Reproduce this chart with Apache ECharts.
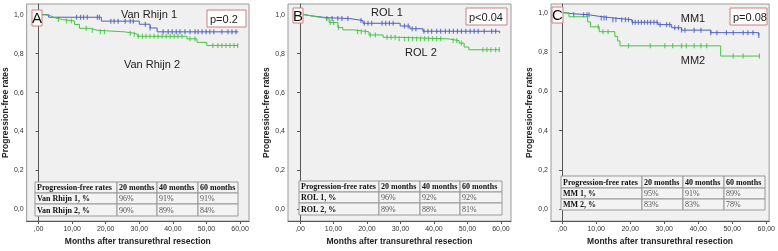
<!DOCTYPE html>
<html>
<head>
<meta charset="utf-8">
<script src="https://cdn.jsdelivr.net/npm/echarts@6/dist/echarts.min.js"></script>
<style>
  html, body { margin: 0; padding: 0; background: #fff; }
  #chart { width: 778px; height: 251px; }
</style>
</head>
<body>
<div id="chart"></div>
<script>
// ---- data ----
const xTicks = [0, 10, 20, 30, 40, 50, 60]
const yTicks = [0, 0.2, 0.4, 0.6, 0.8, 1.0]

// A: Van Rhijn
const a1Time = [0, 3, 18.7, 30, 33.2, 35.3, 59.5]
const a1Surv = [1, 0.987, 0.967, 0.951, 0.932, 0.912, 0.91]
const a1Cens = [11.3, 12.5, 13.4, 14.5, 17.5, 18.1, 21.5, 22.5, 23.7, 25.8, 27.3, 28.2, 31.8, 33.2, 37.1, 38.6, 39.8, 41, 42.1, 43.6, 45.1, 46.6, 47.5, 48.7, 49.9, 51, 52.2, 54.6, 56.4, 57.6, 58.8]
const a2Time = [0, 2, 3.5, 4.7, 7.1, 10.7, 12.2, 15.4, 17.5, 25.5, 28.5, 29.4, 44.2, 47.2, 50.1, 59.5]
const a2Surv = [1, 0.995, 0.985, 0.975, 0.968, 0.95, 0.93, 0.92, 0.912, 0.905, 0.9, 0.889, 0.876, 0.858, 0.842, 0.842]
const a2Cens = [5.9, 8.3, 9.8, 14.2, 16, 18.4, 19.6, 27.3, 28.5, 29.7, 30.9, 32, 33.2, 34.4, 35.6, 36.8, 38, 39.2, 40.4, 41.5, 42.7, 45.1, 46.6, 51.9, 53.4, 54.6, 55.8, 57, 58.2, 59.3]

// B: ROL
const b1Time = [0, 1.5, 3, 8, 14.9, 18.8, 29.9, 32.8, 36.7, 59.6]
const b1Surv = [1, 0.995, 0.985, 0.98, 0.97, 0.956, 0.942, 0.928, 0.915, 0.905]
const b1Cens = [8, 9.6, 11.3, 12.5, 14.3, 18.2, 19.2, 20.3, 21.4, 24.5, 25.6, 26.7, 27.8, 31.2, 32.3, 33.5, 34.6, 37, 38.2, 39.3, 40.8, 42, 43.4, 44.6, 45.8, 47, 48.2, 49.5, 50.8, 52, 53.2, 55, 57.2, 58.4]
const b2Time = [0, 1.5, 4.8, 8.7, 11.3, 12.8, 16.1, 20.6, 24.8, 29.3, 44.2, 47.5, 49, 50.4, 59.7]
const b2Surv = [1, 0.99, 0.98, 0.96, 0.934, 0.922, 0.912, 0.896, 0.884, 0.876, 0.867, 0.854, 0.834, 0.82, 0.82]
const b2Cens = [9, 10, 11.5, 17.2, 18.3, 19.5, 21, 22.5, 26, 27.2, 28.4, 29.6, 31.2, 32.4, 33.6, 34.8, 36, 37.2, 38.4, 39.6, 40.8, 42, 45.7, 46.8, 48.2, 54.6, 55.8, 57, 58.4, 59.5]

// C: MM
const c1Time = [0, 1, 3.4, 8, 10.9, 14.9, 20.5, 28.2, 32.2, 35.1, 43.7, 57.8]
const c1Surv = [1, 0.995, 0.99, 0.982, 0.974, 0.965, 0.952, 0.94, 0.924, 0.912, 0.899, 0.885]
const c1Cens = [3.4, 6.3, 7.3, 7.9, 11.5, 12.3, 13, 14.9, 15.8, 17.5, 18.6, 19.5, 20.7, 21.5, 22.4, 23.3, 24.2, 25.1, 26, 27, 27.9, 28.8, 30.7, 31.6, 33.1, 34.2, 35.1, 36.1, 38.8, 40.8, 43.7, 45.5, 48.3, 50.3, 53.2, 54.6, 56.1, 57.8]
const c2Time = [0, 2, 7.5, 8.3, 10.9, 15.5, 16.3, 17, 46.6, 58]
const c2Surv = [1, 0.98, 0.954, 0.929, 0.904, 0.88, 0.857, 0.832, 0.78, 0.78]
const c2Cens = [10.6, 12, 13.5, 19.5, 25.9, 30.2, 32.5, 35.1, 36.5, 38.8, 40.8, 42.5, 50.3, 53.2, 58]

const tableHead = ['Progression-free rates', '20 months', '40 months', '60 months']
const tableA = [['Van Rhijn 1, %', '96%', '91%', '91%'], ['Van Rhijn 2, %', '90%', '89%', '84%']]
const tableB = [['ROL 1, %', '96%', '92%', '92%'], ['ROL 2, %', '89%', '88%', '81%']]
const tableC = [['MM 1, %', '95%', '91%', '89%'], ['MM 2, %', '83%', '83%', '78%']]

const blue = '#4a5fc1'
const green = '#45c445'

// ---- layout of the three panels ----
const panels = [
  {
    letter: 'A', pText: 'p=0.2', names: ['Van Rhijn 1', 'Van Rhijn 2'],
    curves: [[a1Time, a1Surv, a1Cens, blue], [a2Time, a2Surv, a2Cens, green]], table: tableA,
    grid: { left: 26, top: 4, width: 223, height: 222 }, xr: [-3.56, 62.67], yr: [-0.06, 1.055],
    letterBox: [32, 10, 10, 16], pBox: [207, 10, 39, 17],
    nameAt: [[149, 15], [152, 65]],
    cols: [35, 117, 157, 198, 238], rows: [182, 193, 204, 216]
  },
  {
    letter: 'B', pText: 'p<0.04', names: ['ROL 1', 'ROL 2'],
    curves: [[b1Time, b1Surv, b1Cens, blue], [b2Time, b2Surv, b2Cens, green]], table: tableB,
    grid: { left: 288, top: 4, width: 223, height: 222 }, xr: [-3.58, 62.99], yr: [-0.06, 1.055],
    letterBox: [293, 8, 10, 15], pBox: [466, 8, 41, 17],
    nameAt: [[387, 13], [421, 53]],
    cols: [299, 379, 420, 460, 502], rows: [181, 192, 203, 215]
  },
  {
    letter: 'C', pText: 'p=0.08', names: ['MM1', 'MM2'],
    curves: [[c1Time, c1Surv, c1Cens, blue], [c2Time, c2Surv, c2Cens, green]], table: tableC,
    grid: { left: 551, top: 4, width: 225, height: 221 }, xr: [-3.28, 60.86], yr: [-0.06, 1.045],
    letterBox: [552, 7, 11, 16], pBox: [730, 8, 37, 17],
    nameAt: [[693, 19], [693, 61]],
    cols: [561, 642, 683, 724, 765], rows: [176, 188, 199, 210]
  }
]

// value of a step curve at time t
const stepAt = (times, surv, t) => {
  let v = surv[0]
  for (let i = 0; i < times.length; i++) {
    if (times[i] <= t) v = surv[i]
  }
  return v
}

const grids = []
const xAxes = []
const yAxes = []
const series = []
const graphics = []

panels.forEach((p, gi) => {
  grids.push(Object.assign({
    show: true, backgroundColor: '#f0f0f0', borderColor: '#9a9a9a', borderWidth: 1
  }, p.grid))

  xAxes.push({
    type: 'value', gridIndex: gi, min: p.xr[0], max: p.xr[1],
    name: 'Months after transurethral resection', nameLocation: 'middle', nameGap: 15,
    nameTextStyle: { fontFamily: 'Liberation Sans', fontWeight: 'bold', fontSize: 8.5, color: '#222' },
    axisLine: { onZero: false, lineStyle: { color: '#555' } },
    axisTick: { customValues: xTicks, length: 3, lineStyle: { color: '#555' } },
    axisLabel: {
      customValues: xTicks, fontSize: 7, color: '#333', margin: 4, fontFamily: 'Liberation Sans',
      formatter: v => v === 0 ? ',00' : v.toFixed(2).replace('.', ',')
    },
    splitLine: { show: false }
  })

  yAxes.push({
    type: 'value', gridIndex: gi, min: p.yr[0], max: p.yr[1],
    name: 'Progression-free rates', nameLocation: 'middle', nameGap: 14, nameRotate: 90,
    nameTextStyle: { fontFamily: 'Liberation Sans', fontWeight: 'bold', fontSize: 8.5, color: '#222' },
    axisLine: { lineStyle: { color: '#555' } },
    axisTick: { customValues: yTicks, length: 3, lineStyle: { color: '#555' } },
    axisLabel: {
      customValues: yTicks, fontSize: 7, color: '#333', margin: 3, fontFamily: 'Liberation Sans',
      formatter: v => v.toFixed(1).replace('.', ',')
    },
    splitLine: { show: false }
  })

  p.curves.forEach(([times, surv, cens, color]) => {
    series.push({
      type: 'line', step: 'end', xAxisIndex: gi, yAxisIndex: gi,
      data: times.map((t, i) => [t, surv[i]]),
      showSymbol: false, silent: true,
      lineStyle: { color: color, width: 1 }
    })
    series.push({
      type: 'scatter', xAxisIndex: gi, yAxisIndex: gi,
      data: cens.map(t => [t, stepAt(times, surv, t)]),
      symbol: 'rect', symbolSize: [1.2, 5], silent: true,
      itemStyle: { color: color }
    })
  })

  // panel letter box
  const [lx, ly, lw, lh] = p.letterBox
  graphics.push({
    type: 'rect', shape: { x: lx, y: ly, width: lw, height: lh },
    style: { fill: '#fff', stroke: '#c98080', lineWidth: 1 }, z: 100
  })
  graphics.push({
    type: 'text', x: lx + lw / 2, y: ly + lh / 2 + 1, z: 101,
    style: { text: p.letter, fill: '#111', fontSize: 15, fontFamily: 'Liberation Sans', align: 'center', verticalAlign: 'middle' }
  })

  // p-value box
  const [px, py, pw, ph] = p.pBox
  graphics.push({
    type: 'rect', shape: { x: px, y: py, width: pw, height: ph },
    style: { fill: '#fff', stroke: '#c98080', lineWidth: 1 }, z: 100
  })
  graphics.push({
    type: 'text', x: px + 3, y: py + ph / 2 + 1, z: 101,
    style: { text: p.pText, fill: '#222', fontSize: 11, fontFamily: 'Liberation Sans', verticalAlign: 'middle' }
  })

  // curve names
  p.names.forEach((n, k) => {
    graphics.push({
      type: 'text', x: p.nameAt[k][0], y: p.nameAt[k][1], z: 101,
      style: { text: n, fill: '#222', fontSize: 11, fontFamily: 'Liberation Sans', align: 'center', verticalAlign: 'middle' }
    })
  })

  // table
  const rowsData = [tableHead].concat(p.table)
  rowsData.forEach((row, r) => {
    row.forEach((cell, c) => {
      const x0 = p.cols[c], x1 = p.cols[c + 1]
      const y0 = p.rows[r], y1 = p.rows[r + 1]
      graphics.push({
        type: 'rect', shape: { x: x0, y: y0, width: x1 - x0, height: y1 - y0 },
        style: { fill: '#f3f3f3', stroke: '#999', lineWidth: 1 }, z: 100
      })
      const bold = r === 0 || c === 0
      graphics.push({
        type: 'text', x: x0 + 2, y: (y0 + y1) / 2 + 0.5, z: 101,
        style: {
          text: cell, fill: bold ? '#111' : '#555', fontSize: 8,
          fontFamily: 'Liberation Serif', fontWeight: bold ? 'bold' : 'normal', verticalAlign: 'middle'
        }
      })
    })
  })
})

const chart = echarts.init(document.getElementById('chart'))
chart.setOption({
  animation: false,
  grid: grids,
  xAxis: xAxes,
  yAxis: yAxes,
  series: series,
  graphic: graphics
})
</script>
</body>
</html>
